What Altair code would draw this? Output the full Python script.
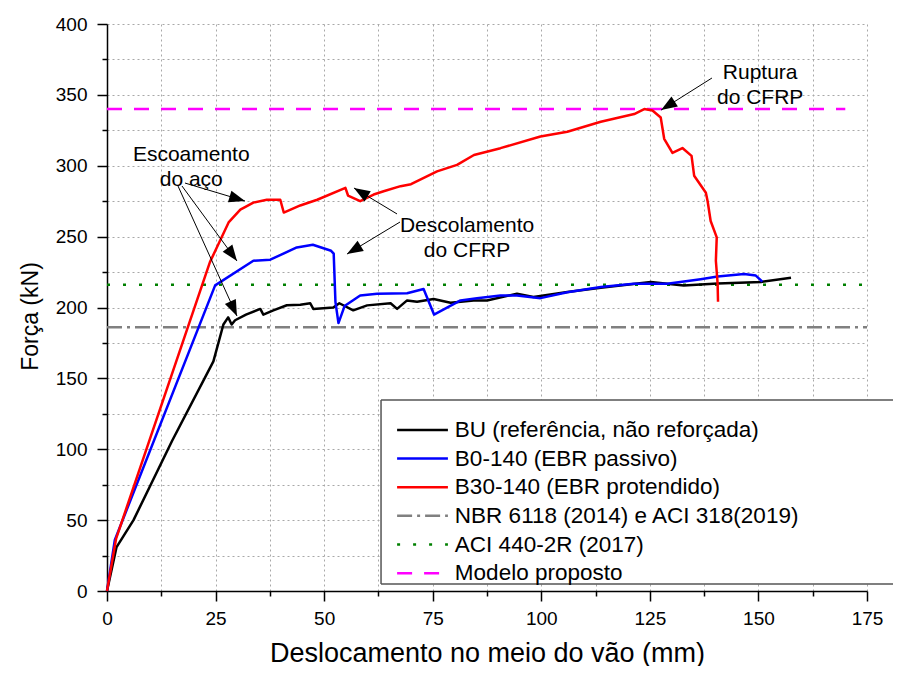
import math
import altair as alt
import pandas as pd

# ---------------- data ----------------
series_names = [
    "BU (referência, não reforçada)",
    "B0-140 (EBR passivo)",
    "B30-140 (EBR protendido)",
    "NBR 6118 (2014) e ACI 318(2019)",
    "ACI 440-2R (2017)",
    "Modelo proposto",
]

bu_x = [0, 2.2, 6.1, 15.0, 24.5, 26.8, 27.9, 28.7, 29.5, 32.0, 35.3, 36.0, 38.3, 41.4,
        44.5, 46.8, 47.5, 52.1, 53.5, 56.7, 59.9, 65.3, 66.8, 69.1, 71.4, 75.2, 79.1,
        84.4, 87.5, 94.4, 98.2, 106.0, 113.7, 125.2, 132.8, 140.6, 150.6, 157.5]
bu_y = [0, 31, 50, 106, 162, 188, 193, 188, 191, 195, 199, 195, 198, 201.6,
        202, 203, 199, 200, 203, 198, 201.5, 203, 199, 205, 204, 206, 203.3,
        205, 205, 209.7, 207.4, 211, 214, 218, 215.5, 217, 218, 221]

b0_x = [0, 1.8, 24.9, 33.7, 37.6, 43.7, 47.4, 51.6, 52.2, 52.6, 53.3, 54.7, 58.3, 62.2,
        69.1, 72.9, 75.3, 81.4, 85.2, 90.6, 94.4, 99.8, 106.0, 113.7, 121.3, 129.0,
        136.7, 140.6, 146.7, 149.4, 150.9]
b0_y = [0, 36, 215.6, 233, 233.7, 242.4, 244.3, 240, 238, 204, 189, 201, 208.5, 209.7,
        210, 213, 195, 205, 206.6, 208.5, 208.5, 206.6, 210.8, 214.4, 216.7, 216.7,
        220, 221.9, 223.7, 222.5, 218.3]

b30_x = [0, 2.1, 23.7, 28.0, 30.7, 33.7, 36.8, 39.9, 40.7, 44.5, 48.4, 54.9, 55.5, 58.3,
         61.4, 63.7, 67.6, 70.0, 76.0, 80.6, 84.5, 90.6, 99.8, 106.0, 113.7, 121.4, 123.7,
         125.6, 127.5, 128.3, 130.2, 132.5, 134.6, 135.2, 137.9, 138.3, 139.0, 140.4,
         140.2, 140.6, 140.7]
b30_y = [0, 37, 232, 260, 269, 274, 276, 276, 267, 272, 276, 284.4, 279, 275,
         279.7, 282, 285.6, 287, 296, 300.6, 307.6, 312.4, 320.6, 324, 331, 336.5, 340,
         339, 334, 319, 309, 312.5, 307, 293, 281, 275, 261, 249.5,
         233, 217, 204]

ref_values = [186, 216, 340]          # NBR / ACI 440 / Modelo proposto (kN)
ref_x_start = [0, 0, 0]
ref_x_end = [175, 175, 170]

annot_texts = ["Escoamento\ndo aço", "Descolamento\ndo CFRP", "Ruptura\ndo CFRP"]
annot_x = [19.4, 82.9, 150.4]
annot_y = [307.6, 257.8, 365.1]

arrow_tail_x = [17.96, 17.27, 16.35, 66.78, 67.47, 139.3]
arrow_tail_y = [287.8, 285.7, 285.7, 266.0, 260.3, 361.9]
arrow_tip_x = [31.78, 29.93, 29.93, 56.87, 55.26, 127.6]
arrow_tip_y = [275.1, 232.8, 194.0, 284.3, 237.7, 339.3]

# ---------------- styles / layout ----------------
colors = ["#000000", "#0000FF", "#FF0000", "#808080", "#008000", "#FF00FF"]
dashes = [[1, 0], [1, 0], [1, 0], [15, 5, 3, 5], [3, 13], [15, 12]]
widths = [2.5, 2.5, 2.5, 3, 3, 2.5]

W, H = 760, 567
XMAX, YMAX = 175, 400
PXX, PXY = W / XMAX, H / YMAX
FONT = "Liberation Sans"

# legend layout (in axis units); box runs to the right edge of the figure
LEG_LEFT, LEG_RIGHT, LEG_TOP, LEG_BOTTOM = 63.1, 181.5, 134.7, 4.9
LEG_SYM = (66.8, 78.5)
LEG_TXT_X = 80.1
LEG_ROW0, LEG_STEP = 113.6, 20.2

# ---------------- tables ----------------
rows = []
for name, xs, ys in [(series_names[0], bu_x, bu_y),
                     (series_names[1], b0_x, b0_y),
                     (series_names[2], b30_x, b30_y)]:
    assert len(xs) == len(ys)
    for i, (xv, yv) in enumerate(zip(xs, ys)):
        rows.append({"serie": name, "i": i, "x": xv, "y": yv})
curves = pd.DataFrame(rows)

refs = pd.DataFrame({
    "serie": series_names[3:],
    "y": ref_values,
    "x": ref_x_start,
    "x2": ref_x_end,
})

legend_rows = pd.DataFrame({
    "serie": series_names,
    "y": [LEG_ROW0 - k * LEG_STEP for k in range(len(series_names))],
    "x": [LEG_SYM[0]] * len(series_names),
    "x2": [LEG_SYM[1]] * len(series_names),
    "tx": [LEG_TXT_X] * len(series_names),
})
legend_box = pd.DataFrame({"x": [LEG_LEFT], "x2": [LEG_RIGHT],
                           "y": [LEG_TOP], "y2": [LEG_BOTTOM]})
legend_edges = pd.DataFrame({
    "x": [LEG_LEFT, LEG_LEFT, LEG_LEFT],
    "x2": [LEG_RIGHT, LEG_RIGHT, LEG_LEFT],
    "y": [LEG_TOP, LEG_BOTTOM, LEG_TOP],
    "y2": [LEG_TOP, LEG_BOTTOM, LEG_BOTTOM],
})

annots = pd.DataFrame({"t": annot_texts, "x": annot_x, "y": annot_y})

R = 8.0  # half length of arrow head in px
arr = []
for tx0, ty0, tx1, ty1 in zip(arrow_tail_x, arrow_tail_y, arrow_tip_x, arrow_tip_y):
    dx = (tx1 - tx0) * PXX
    dy = -(ty1 - ty0) * PXY
    ln = math.hypot(dx, dy)
    ux, uy = dx / ln, dy / ln
    ang = math.degrees(math.atan2(dx, -dy)) % 360
    cx = tx1 - R * ux / PXX
    cy = ty1 + R * uy / PXY
    arr.append({"x": tx0, "y": ty0, "x2": tx1, "y2": ty1, "cx": cx, "cy": cy, "ang": ang})
arrows = pd.DataFrame(arr)

# ---------------- scales / axes ----------------
xsc = alt.Scale(domain=[0, XMAX], nice=False, zero=False)
ysc = alt.Scale(domain=[0, YMAX], nice=False, zero=False)
color_sc = alt.Scale(domain=series_names, range=colors)
dash_sc = alt.Scale(domain=series_names, range=dashes)
width_sc = alt.Scale(domain=series_names, range=widths)

x_axis = alt.Axis(
    values=[k * 12.5 for k in range(15)],
    labelExpr="datum.value % 25 === 0 ? format(datum.value, 'd') : ''",
    tickSize={"condition": {"test": "datum.value % 25 === 0", "value": 10}, "value": 5},
    grid=True, gridColor="#a8a8a8", gridDash=[2, 3], gridWidth=1, gridOpacity=1,
    title="Deslocamento no meio do vão (mm)",
    titleFontSize=27, titleY=70, titleBaseline="alphabetic",
    labelFontSize=19, labelPadding=8, labelFlush=False,
)
y_axis = alt.Axis(
    values=[k * 25 for k in range(17)],
    labelExpr="datum.value % 50 === 0 ? format(datum.value, 'd') : ''",
    tickSize={"condition": {"test": "datum.value % 50 === 0", "value": 10}, "value": 5},
    grid=True, gridColor="#a8a8a8", gridDash=[2, 3], gridWidth=1, gridOpacity=1,
    title="Força (kN)",
    titleFontSize=23, titleX=-77, titleY=292, titleBaseline="middle",
    labelFontSize=19, labelPadding=10, labelFlush=False,
)


def X(f):
    return alt.X(f, type="quantitative", scale=xsc, axis=x_axis)


def Y(f):
    return alt.Y(f, type="quantitative", scale=ysc, axis=y_axis)


col = alt.Color("serie:N", scale=color_sc, legend=None)
dsh = alt.StrokeDash("serie:N", scale=dash_sc, legend=None)
wid = alt.StrokeWidth("serie:N", scale=width_sc, legend=None)

ref_layer = alt.Chart(refs).mark_rule().encode(
    x=X("x"), x2="x2", y=Y("y"), color=col, strokeDash=dsh, strokeWidth=wid)

curve_layer = alt.Chart(curves).mark_line(strokeJoin="round").encode(
    x=X("x"), y=Y("y"), color=col, strokeWidth=wid, order=alt.Order("i:Q"))

arrow_lines = alt.Chart(arrows).mark_rule(color="black", strokeWidth=1).encode(
    x=X("x"), y=Y("y"), x2="x2", y2="y2")

arrow_heads = alt.Chart(arrows).mark_point(
    shape="M0,-1L0.75,1L-0.75,1Z", filled=True, color="black", opacity=1,
    size=(2 * R) ** 2, strokeWidth=0).encode(
    x=X("cx"), y=Y("cy"), angle=alt.Angle("ang:Q", scale=None))

annot_layer = alt.Chart(annots).mark_text(
    font=FONT, fontSize=21, lineBreak="\n", lineHeight=25, align="center",
    baseline="middle", color="black").encode(x=X("x"), y=Y("y"), text="t:N")

box_layer = alt.Chart(legend_box).mark_rect(fill="white", strokeWidth=0).encode(
    x=X("x"), x2="x2", y=Y("y"), y2="y2")

box_edges = alt.Chart(legend_edges).mark_rule(color="#555555", strokeWidth=1.5).encode(
    x=X("x"), x2="x2", y=Y("y"), y2="y2")

leg_sym = alt.Chart(legend_rows).mark_rule().encode(
    x=X("x"), x2="x2", y=Y("y"), color=col, strokeDash=dsh, strokeWidth=wid)

leg_txt = alt.Chart(legend_rows).mark_text(
    font=FONT, fontSize=22.5, align="left", baseline="middle", color="black").encode(
    x=X("tx"), y=Y("y"), text="serie:N")

chart = alt.layer(
    ref_layer, curve_layer, arrow_lines, arrow_heads, annot_layer,
    box_layer, box_edges, leg_sym, leg_txt,
).properties(
    width=W, height=H,
    autosize=alt.AutoSizeParams(type="none"),
    padding={"left": 99, "top": 16, "right": 26, "bottom": 75},
).configure_view(stroke=None).configure_axis(
    labelFont=FONT, titleFont=FONT, labelColor="black", titleColor="black",
    titleFontWeight="normal", domainColor="black", domainWidth=1.5,
    tickColor="black", tickWidth=1.5,
)

chart.save("out.html", embed_options={"renderer": "svg", "actions": False})
